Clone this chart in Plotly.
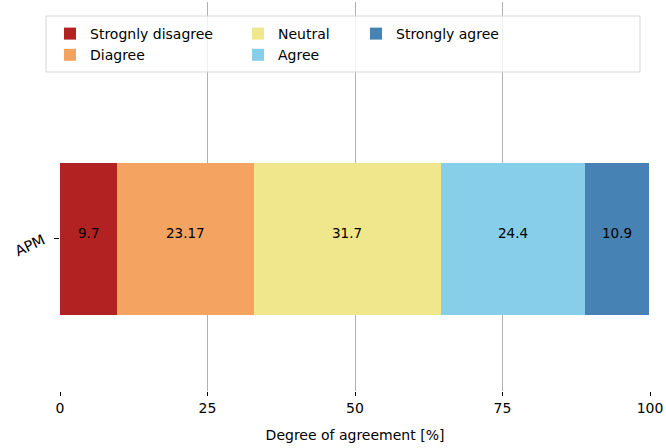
import plotly.graph_objects as go

categories = ["APM"]
series_names = ["Strognly disagree", "Diagree", "Neutral", "Agree", "Strongly agree"]
series_values = [[9.7], [23.17], [31.7], [24.4], [10.9]]
series_colors = ["#b22222", "#f4a460", "#f0e68c", "#87ceeb", "#4682b4"]
legend_columns = ["legend", "legend", "legend2", "legend2", "legend3"]
x_ticks = [0, 25, 50, 75, 100]

FONT = "DejaVu Sans"
L, R, T, B = 60, 16, 2, 57
W, H = 666, 448
PW, PH = W - L - R, H - T - B


def px_x(p):
    return (p - L) / PW


def px_y(p):
    return 1 - (p - T) / PH


fig = go.Figure()
annotations = []
base = [0.0 for _ in categories]
for i, (name, vals, col, leg) in enumerate(zip(series_names, series_values, series_colors, legend_columns)):
    fig.add_trace(go.Bar(
        y=categories, x=vals, name=name, orientation="h",
        marker=dict(color=col, line=dict(width=0)),
        width=0.5,
        legend=leg, legendgroup=f"g{i}",
    ))
    for j, (cat, v) in enumerate(zip(categories, vals)):
        annotations.append(dict(
            x=base[j] + v / 2, y=cat, xref="x", yref="y",
            text=f"{v:g}", showarrow=False, yshift=6,
            font=dict(family=FONT, size=13.5, color="black"),
        ))
        base[j] += v

leg_common = dict(
    orientation="v", yanchor="top", xanchor="left",
    bgcolor="rgba(0,0,0,0)", borderwidth=0,
    font=dict(family=FONT, size=14, color="black"),
    traceorder="normal", tracegroupgap=9, itemwidth=30,
)

fig.update_layout(
    barmode="stack",
    width=W, height=H,
    margin=dict(l=L, r=R, t=T, b=B),
    paper_bgcolor="white", plot_bgcolor="white",
    font=dict(family=FONT, size=14, color="black"),
    annotations=annotations,
    legend=dict(x=px_x(50), y=px_y(18), **leg_common),
    legend2=dict(x=px_x(238), y=px_y(18), **leg_common),
    legend3=dict(x=px_x(356), y=px_y(18), **leg_common),
    shapes=[dict(
        type="rect", xref="paper", yref="paper",
        x0=px_x(46), x1=px_x(640), y0=px_y(72), y1=px_y(16),
        fillcolor="rgba(255,255,255,0.8)", line=dict(color="#d5d5d5", width=1),
        layer="above",
    )],
    xaxis=dict(
        range=[0, 100], tickvals=x_ticks, ticktext=[str(t) for t in x_ticks],
        showgrid=True, gridcolor="#b0b0b0", gridwidth=1.3,
        zeroline=False, showline=False,
        ticks="outside", ticklen=4, tickcolor="black", tickwidth=1,
        tickfont=dict(size=14),
        title=dict(text="Degree of agreement [%]", font=dict(size=14), standoff=15),
    ),
    yaxis=dict(
        range=[-0.5, 0.778], showgrid=False, zeroline=False, showline=False,
        ticks="outside", ticklen=5, tickcolor="black",
        tickangle=-25, tickfont=dict(size=14.5), ticklabelstandoff=8,
    ),
)

fig.write_html("out.html", post_script="document.body.style.margin='0';",
               config={"displayModeBar": False})
